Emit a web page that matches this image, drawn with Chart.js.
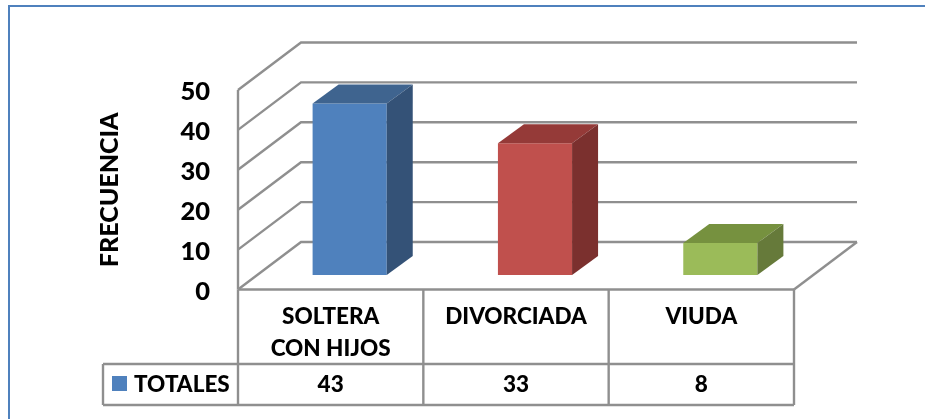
<!DOCTYPE html>
<html>
<head>
<meta charset="utf-8">
<style>
  html, body { margin: 0; padding: 0; background: #fff; overflow: hidden; }
  canvas { display: block; }
</style>
<script src="https://cdn.jsdelivr.net/npm/chart.js@4"></script>
</head>
<body>
<canvas id="chart" width="925" height="419"></canvas>
<script>
const categories = [['SOLTERA', 'CON HIJOS'], 'DIVORCIADA', 'VIUDA']
const totales = [43, 33, 8]
const yTicks = [0, 10, 20, 30, 40, 50]

const frontColors = ['#4f81bd', '#c0504d', '#9bbb59']
const topColors = ['#3f648f', '#953a38', '#76913f']
const sideColors = ['#345277', '#7b302e', '#667a3a']

const FONT = 'Lato, sans-serif'
const LINE = '#8f8f8f'
const LINE_WIDTH = 2.4
const BACK = { x: 63, y: -47.5 }      // wall offset from the front plane
const SHIFT = { x: 19, y: -14.5 }     // bars stand this far behind the front
const DEPTH = { x: 26, y: -19 }       // depth of one bar
const ROW1 = 364                      // bottom of category row
const ROW2 = 405                      // bottom of value row
const LEGEND_LEFT = 103

function strokeLine(ctx, x1, y1, x2, y2) {
    ctx.beginPath()
    ctx.moveTo(x1, y1)
    ctx.lineTo(x2, y2)
    ctx.stroke()
}

function fillPoly(ctx, color, pts) {
    ctx.fillStyle = color
    ctx.beginPath()
    pts.forEach((p, i) => i ? ctx.lineTo(p[0], p[1]) : ctx.moveTo(p[0], p[1]))
    ctx.closePath()
    ctx.fill()
}

// left wall, back wall lines and floor, from the y scale
const wallPlugin = {
    id: 'wall',
    beforeDatasetsDraw(chart) {
        const { ctx, chartArea: area, scales: { y } } = chart
        ctx.save()
        ctx.strokeStyle = LINE
        ctx.lineWidth = LINE_WIDTH
        yTicks.forEach(t => {
            const py = y.getPixelForValue(t)
            ctx.beginPath()
            ctx.moveTo(area.left, py)
            ctx.lineTo(area.left + BACK.x, py + BACK.y)
            ctx.lineTo(area.right + BACK.x, py + BACK.y)
            ctx.stroke()
        })
        strokeLine(ctx, area.left, y.getPixelForValue(50), area.left, y.getPixelForValue(0))
        strokeLine(ctx, area.right, y.getPixelForValue(0), area.right + BACK.x, y.getPixelForValue(0) + BACK.y)
        ctx.restore()
        ctx.save()
        ctx.translate(SHIFT.x, SHIFT.y)
    },
    afterDatasetsDraw(chart) {
        const { ctx } = chart
        chart.getDatasetMeta(0).data.forEach((bar, i) => {
            const l = bar.x - bar.width / 2
            const r = bar.x + bar.width / 2
            fillPoly(ctx, topColors[i], [
                [l, bar.y], [r, bar.y],
                [r + DEPTH.x, bar.y + DEPTH.y], [l + DEPTH.x, bar.y + DEPTH.y]
            ])
            fillPoly(ctx, sideColors[i], [
                [r, bar.y], [r + DEPTH.x, bar.y + DEPTH.y],
                [r + DEPTH.x, bar.base + DEPTH.y], [r, bar.base]
            ])
        })
        ctx.restore()
    }
}

// data table under the plot, with the legend key in its first cell
const tablePlugin = {
    id: 'table',
    afterDraw(chart) {
        const { ctx, chartArea: area, scales: { x } } = chart
        const floor = area.bottom
        const cell = (area.right - area.left) / categories.length
        ctx.save()
        ctx.strokeStyle = LINE
        ctx.lineWidth = LINE_WIDTH
        strokeLine(ctx, area.left, floor, area.right, floor)
        strokeLine(ctx, LEGEND_LEFT, ROW1, area.right, ROW1)
        strokeLine(ctx, LEGEND_LEFT, ROW2, area.right, ROW2)
        strokeLine(ctx, LEGEND_LEFT, ROW1, LEGEND_LEFT, ROW2)
        for (let i = 0; i <= categories.length; i++) {
            const px = area.left + cell * i
            strokeLine(ctx, px, floor, px, ROW2)
        }
        ctx.fillStyle = '#000'
        ctx.font = '900 22.5px ' + FONT
        ctx.textAlign = 'center'
        ctx.textBaseline = 'middle'
        categories.forEach((c, i) => {
            const px = x.getPixelForValue(i)
            const lines = [].concat(c)
            lines.forEach((s, j) => ctx.fillText(s, px, 317 + j * 32))
            ctx.fillText(String(totales[i]), px, 385)
        })
        ctx.textAlign = 'left'
        ctx.fillText(chart.data.datasets[0].label, 134, 385)
        ctx.fillStyle = frontColors[0]
        ctx.fillRect(112, 376, 15, 15)
        ctx.restore()
    }
}

// page frame behind the chart
const framePlugin = {
    id: 'frame',
    beforeDraw(chart) {
        const { ctx } = chart
        ctx.save()
        ctx.fillStyle = '#fff'
        ctx.fillRect(0, 0, 925, 419)
        ctx.strokeStyle = '#4f81bd'
        ctx.lineWidth = 2
        ctx.beginPath()
        ctx.moveTo(9, 419)
        ctx.lineTo(9, 6)
        ctx.lineTo(925, 6)
        ctx.stroke()
        ctx.restore()
    }
}

new Chart(document.getElementById('chart'), {
    type: 'bar',
    data: {
        labels: categories,
        datasets: [{
            label: 'TOTALES',
            data: totales,
            backgroundColor: frontColors,
            barPercentage: 0.4,
            categoryPercentage: 1
        }]
    },
    options: {
        responsive: false,
        animation: false,
        layout: { padding: { left: 95, right: 131, top: 90, bottom: 129.5 } },
        plugins: { legend: { display: false }, tooltip: { enabled: false } },
        scales: {
            x: {
                afterFit(scale) { scale.height = 0 },
                grid: { display: false },
                border: { display: false },
                ticks: { display: false }
            },
            y: {
                min: 0,
                max: 50,
                afterFit(scale) { scale.width = 143 },
                afterBuildTicks(scale) { scale.ticks = yTicks.map(value => ({ value })) },
                grid: { display: false, drawTicks: false },
                border: { display: false },
                ticks: {
                    padding: 28,
                    labelOffset: 2,
                    color: '#000',
                    font: { family: FONT, size: 25.5, weight: '900' }
                },
                title: {
                    display: true,
                    text: 'FRECUENCIA',
                    color: '#000',
                    padding: 0,
                    font: { family: FONT, size: 25, weight: '900' }
                }
            }
        }
    },
    plugins: [framePlugin, wallPlugin, tablePlugin]
})
</script>
</body>
</html>
